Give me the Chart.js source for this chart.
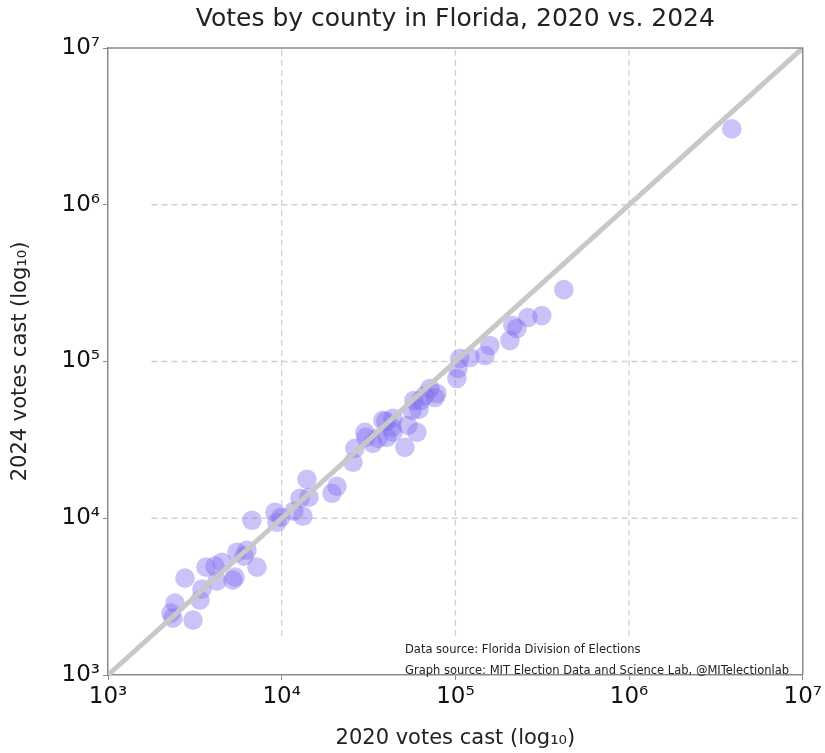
<!DOCTYPE html>
<html>
<head>
<meta charset="utf-8">
<script src="https://cdn.jsdelivr.net/npm/chart.js@4/dist/chart.umd.min.js"></script>
<style>
  html, body { margin: 0; padding: 0; background: #fff; }
  #wrap { width: 825px; height: 753px; }
</style>
</head>
<body>
<div id="wrap"><canvas id="chart"></canvas></div>
<script>
// votes cast per county
const votes2020 = [
  2305, 2366, 2430, 2775, 3085, 3475, 3384, 3664, 4128, 4240,
  4530, 5383, 5241, 5527, 6063, 6310, 7204, 6743, 9146, 9391,
  9901, 11760, 13250, 12740, 13980, 14350, 19470, 20800, 25710, 26400,
  30140, 33510, 35810, 38250, 40350, 43100, 43680, 51220, 53300, 60020,
  56210, 57710, 61630, 66760, 71330, 76210, 78260, 43680, 102000, 103400,
  106100, 121200, 147900, 157900, 205900, 214200, 225900, 261400, 314800, 421200,
  3903000, 63300, 30500, 39800
]
const votes2024 = [
  2483, 2307, 2875, 4148, 2240, 3530, 3004, 4874, 4947, 3968,
  5245, 4209, 4028, 6072, 5728, 6253, 4874, 9711, 10920, 9430,
  10150, 11080, 10300, 13410, 17720, 13610, 14430, 15990, 22740, 27920,
  35300, 30040, 32330, 42090, 32810, 37980, 35300, 28330, 39120, 35300,
  48740, 56440, 49470, 60720, 67300, 58970, 62540, 43350, 77930, 90250,
  104500, 106000, 109200, 126500, 136100, 169600, 162300, 190700, 196300, 287400,
  3049000, 56400, 32800, 41500
]
const tickVals = [1e3, 1e4, 1e5, 1e6, 1e7]
const gridVals = [1e4, 1e5, 1e6]
const gridStart = 1780
const sup = { '3': '³', '4': '⁴', '5': '⁵', '6': '⁶', '7': '⁷' }

const points = votes2020.map((v, i) => ({ x: v, y: votes2024[i] }))
const font = 'DejaVu Sans'

const decorations = {
  id: 'decorations',
  beforeDatasetsDraw(chart) {
    const { ctx, chartArea: a, scales: { x, y } } = chart
    ctx.save()
    ctx.strokeStyle = '#d0d0d0'
    ctx.lineWidth = 1.3
    ctx.setLineDash([6, 4])
    for (const g of gridVals) {
      const px = x.getPixelForValue(g)
      ctx.beginPath()
      ctx.moveTo(px, y.getPixelForValue(gridStart))
      ctx.lineTo(px, a.top)
      ctx.stroke()
      const py = y.getPixelForValue(g)
      ctx.beginPath()
      ctx.moveTo(x.getPixelForValue(gridStart), py)
      ctx.lineTo(a.right, py)
      ctx.stroke()
    }
    ctx.restore()
  },
  afterDraw(chart) {
    const { ctx, chartArea: a } = chart
    ctx.save()
    // frame on top and right
    ctx.strokeStyle = '#8a8a8a'
    ctx.lineWidth = 1.5
    ctx.beginPath()
    ctx.moveTo(a.left, a.top)
    ctx.lineTo(a.right, a.top)
    ctx.lineTo(a.right, a.bottom)
    ctx.stroke()
    // title, centred over plot
    ctx.fillStyle = '#222'
    ctx.font = `25px "${font}"`
    ctx.textAlign = 'center'
    ctx.textBaseline = 'middle'
    ctx.fillText('Votes by county in Florida, 2020 vs. 2024', (a.left + a.right) / 2, 19)
    // sources
    ctx.font = `11.5px "${font}"`
    ctx.textAlign = 'left'
    ctx.textBaseline = 'alphabetic'
    ctx.fillText('Data source: Florida Division of Elections', 405, 653)
    ctx.fillText('Graph source: MIT Election Data and Science Lab, @MITelectionlab', 405, 674)
    ctx.restore()
  }
}

const logScale = (titleText, fitKey, fitVal, titlePad) => ({
  type: 'logarithmic',
  min: 1e3,
  max: 1e7,
  afterBuildTicks: (s) => { s.ticks = tickVals.map(v => ({ value: v })) },
  afterFit: (s) => { s[fitKey] = fitVal },
  ticks: {
    color: '#111',
    font: { family: font, size: 23 },
    padding: 3,
    maxRotation: 0,
    autoSkip: false,
    callback: (v) => '10' + sup[String(Math.round(Math.log10(v)))]
  },
  grid: { drawOnChartArea: false, drawTicks: true, tickLength: 5, color: '#8a8a8a' },
  border: { display: true, color: '#8a8a8a', width: 1.5 },
  title: { display: true, text: titleText, color: '#222', font: { family: font, size: 21 }, padding: titlePad }
})

new Chart(document.getElementById('chart'), {
  type: 'scatter',
  data: {
    datasets: [
      {
        type: 'line',
        data: [{ x: 1e3, y: 1e3 }, { x: 1e7, y: 1e7 }],
        borderColor: '#c8c8c8',
        borderWidth: 5,
        pointRadius: 0,
        order: 0
      },
      {
        data: points,
        backgroundColor: 'rgba(123, 104, 238, 0.4)',
        borderWidth: 0,
        pointRadius: 9.8,
        pointHoverRadius: 9.8,
        order: 1
      }
    ]
  },
  options: {
    responsive: true,
    maintainAspectRatio: false,
    animation: false,
    events: [],
    layout: { padding: { top: 48, right: 22, left: 0, bottom: 0 } },
    plugins: { legend: { display: false }, tooltip: { enabled: false } },
    scales: {
      x: logScale('2020 votes cast (log₁₀)', 'height', 78, { top: 0, bottom: 2 }),
      y: logScale('2024 votes cast (log₁₀)', 'width', 108, { top: 8, bottom: 0 })
    }
  },
  plugins: [decorations]
})
</script>
</body>
</html>
